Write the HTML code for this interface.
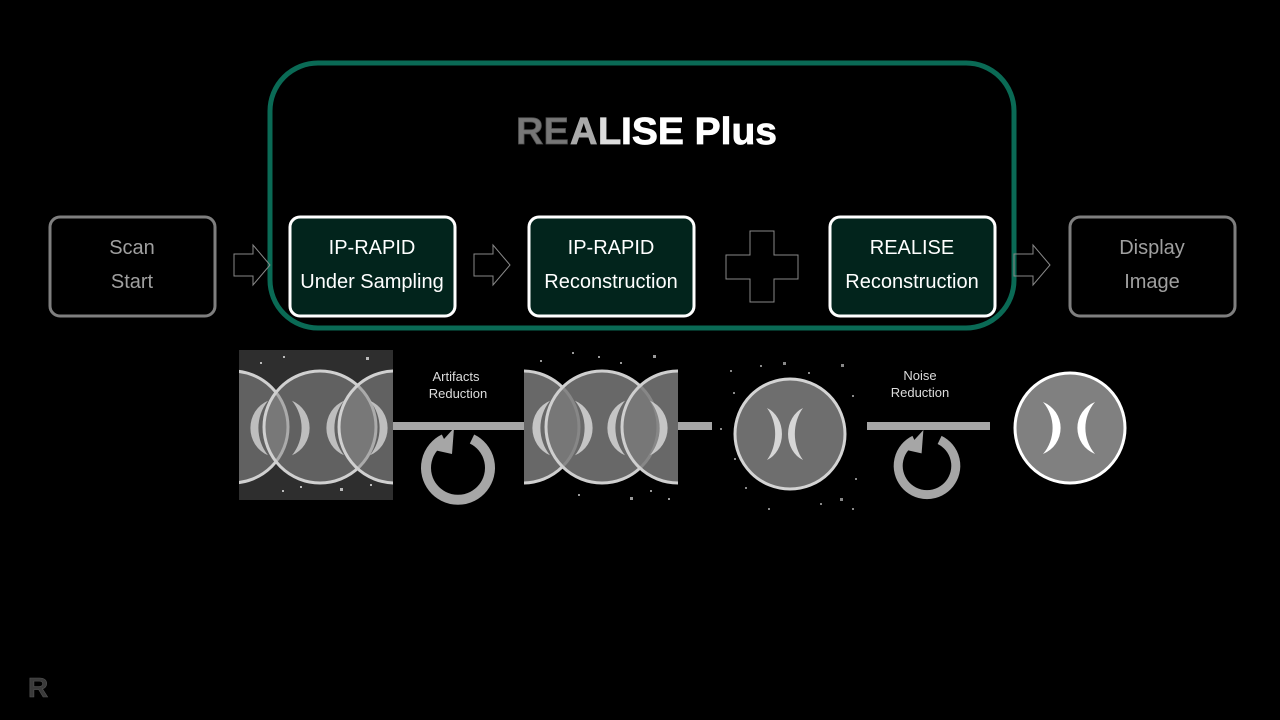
<!DOCTYPE html>
<html><head><meta charset="utf-8"><style>
html,body{margin:0;padding:0;background:#000;}
svg{display:block;}
text{font-family:"Liberation Sans","DejaVu Sans",sans-serif;}
</style></head><body>
<svg width="1280" height="720" viewBox="0 0 1280 720" xmlns="http://www.w3.org/2000/svg">
<defs>
<path id="cr" d="M0,-26 A28,28 0 0 1 0,26 A40,40 0 0 0 0,-26Z"/>
<clipPath id="c1"><rect x="239" y="350" width="154" height="150"/></clipPath>
<clipPath id="c2"><rect x="524" y="350" width="154" height="150"/></clipPath>
<g id="rot">
<path d="M14,-29 A32,32 0 1 1 -14,-29" fill="none" stroke="#a6a6a6" stroke-width="10"/>
<polygon points="-24,-18 -4,-40 -6,-14" fill="#a6a6a6"/>
</g>
</defs>
<rect width="1280" height="720" fill="#000"/>

<rect x="270" y="63" width="744" height="265" rx="48" fill="none" stroke="#0a6a55" stroke-width="5"/>

<g font-size="38" font-weight="bold" stroke-width="0.8">
<text x="516" y="144" fill="#777" stroke="#555">RE</text>
<text x="570" y="144" fill="#aaa" stroke="#aaa">A</text>
<text x="598" y="144" fill="#ddd" stroke="#ddd">L</text>
<text x="621" y="144" fill="#fff" stroke="#fff" textLength="156" lengthAdjust="spacingAndGlyphs">ISE Plus</text>
</g>

<g font-size="20" text-anchor="middle">
<rect x="50" y="217" width="165" height="99" rx="10" fill="#000" stroke="#7f7f7f" stroke-width="3"/>
<text x="132" y="254" fill="#a0a0a0">Scan</text><text x="132" y="288" fill="#a0a0a0">Start</text>
<rect x="290" y="217" width="165" height="99" rx="10" fill="#02241c" stroke="#fff" stroke-width="3"/>
<text x="372" y="254" fill="#fff">IP-RAPID</text><text x="372" y="288" fill="#fff">Under Sampling</text>
<rect x="529" y="217" width="165" height="99" rx="10" fill="#02241c" stroke="#fff" stroke-width="3"/>
<text x="611" y="254" fill="#fff">IP-RAPID</text><text x="611" y="288" fill="#fff">Reconstruction</text>
<rect x="830" y="217" width="165" height="99" rx="10" fill="#02241c" stroke="#fff" stroke-width="3"/>
<text x="912" y="254" fill="#fff">REALISE</text><text x="912" y="288" fill="#fff">Reconstruction</text>
<rect x="1070" y="217" width="165" height="99" rx="10" fill="#000" stroke="#7f7f7f" stroke-width="3"/>
<text x="1152" y="254" fill="#a0a0a0">Display</text><text x="1152" y="288" fill="#a0a0a0">Image</text>
</g>

<g fill="none" stroke="#888" stroke-width="1">
<polygon points="234,254 253,254 253,245 270,265 253,285 253,276 234,276"/>
<polygon points="474,254 493,254 493,245 510,265 493,285 493,276 474,276"/>
<polygon points="1014,254 1033,254 1033,245 1050,265 1033,285 1033,276 1014,276"/>
<polygon points="750,231 774,231 774,255 798,255 798,279 774,279 774,302 750,302 750,279 726,279 726,255 750,255"/>
</g>

<rect x="393" y="422" width="131" height="8" fill="#a6a6a6"/>
<rect x="678" y="422" width="34" height="8" fill="#a6a6a6"/>
<rect x="867" y="422" width="123" height="8" fill="#a6a6a6"/>

<text x="456" y="381" font-size="13" fill="#ddd" text-anchor="middle">Artifacts</text>
<text x="458" y="398" font-size="13" fill="#ddd" text-anchor="middle">Reduction</text>
<text x="920" y="380" font-size="13" fill="#ddd" text-anchor="middle">Noise</text>
<text x="920" y="397" font-size="13" fill="#ddd" text-anchor="middle">Reduction</text>
<use href="#rot" x="458" y="468"/>
<use href="#rot" x="927" y="466" transform="translate(927,466) scale(0.9) translate(-927,-466)"/>

<g clip-path="url(#c1)">
<rect x="239" y="350" width="154" height="150" fill="#2e2e2e"/>
<g fill="#8c8c8c" fill-opacity="0.55" stroke="#d0d0d0" stroke-width="3">
<circle cx="232" cy="427" r="56"/>
<circle cx="320" cy="427" r="56"/>
<circle cx="395" cy="427" r="56"/>
</g>
<g fill="#cfcfcf" opacity="0.85">
<use href="#cr" transform="translate(268,428) scale(-1,1.05)"/>
<use href="#cr" transform="translate(292,428) scale(1,1.05)"/>
<use href="#cr" transform="translate(344,428) scale(-1,1.05)"/>
<use href="#cr" transform="translate(370,428) scale(1,1.05)"/>
</g>
<g fill="#bbb"><rect x="283" y="356" width="2" height="2"/><rect x="366" y="357" width="3" height="3"/><rect x="260" y="362" width="2" height="2"/><rect x="340" y="488" width="3" height="3"/><rect x="282" y="490" width="2" height="2"/><rect x="300" y="486" width="2" height="2"/><rect x="370" y="484" width="2" height="2"/></g>
</g>

<g clip-path="url(#c2)">
<g fill="#7a7a7a" fill-opacity="0.85" stroke="#cfcfcf" stroke-width="3">
<circle cx="523" cy="427" r="56"/>
<circle cx="602" cy="427" r="56"/>
<circle cx="678" cy="427" r="56"/>
</g>
<g fill="#d0d0d0" opacity="0.9">
<use href="#cr" transform="translate(550,428) scale(-1,1.05)"/>
<use href="#cr" transform="translate(575,428) scale(1,1.05)"/>
<use href="#cr" transform="translate(625,428) scale(-1,1.05)"/>
<use href="#cr" transform="translate(650,428) scale(1,1.05)"/>
</g>
</g>
<g fill="#999"><rect x="572" y="352" width="2" height="2"/><rect x="598" y="356" width="2" height="2"/><rect x="653" y="355" width="3" height="3"/><rect x="540" y="360" width="2" height="2"/><rect x="620" y="362" width="2" height="2"/><rect x="630" y="497" width="3" height="3"/><rect x="650" y="490" width="2" height="2"/><rect x="578" y="494" width="2" height="2"/><rect x="668" y="498" width="2" height="2"/></g>

<circle cx="790" cy="434" r="55" fill="#6e6e6e" stroke="#d4d4d4" stroke-width="3"/>
<g fill="#d6d6d6">
<use href="#cr" transform="translate(767,434) scale(0.85,1)"/>
<use href="#cr" transform="translate(803,434) scale(-0.85,1)"/>
</g>
<g fill="#888"><rect x="730" y="370" width="2" height="2"/><rect x="760" y="365" width="2" height="2"/><rect x="783" y="362" width="3" height="3"/><rect x="808" y="372" width="2" height="2"/><rect x="841" y="364" width="3" height="3"/><rect x="852" y="395" width="2" height="2"/><rect x="733" y="392" width="2" height="2"/><rect x="720" y="428" width="2" height="2"/><rect x="734" y="458" width="2" height="2"/><rect x="745" y="487" width="2" height="2"/><rect x="768" y="508" width="2" height="2"/><rect x="820" y="503" width="2" height="2"/><rect x="840" y="498" width="3" height="3"/><rect x="855" y="478" width="2" height="2"/><rect x="852" y="508" width="2" height="2"/></g>

<circle cx="1070" cy="428" r="55" fill="#808080" stroke="#fff" stroke-width="3"/>
<g fill="#fff">
<use href="#cr" transform="translate(1043,428)"/>
<use href="#cr" transform="translate(1095,428) scale(-1,1)"/>
</g>

<text x="28" y="697" font-size="28" font-weight="bold" fill="#3a3a3a" stroke="#555" stroke-width="0.6">R</text>
</svg>
</body></html>
